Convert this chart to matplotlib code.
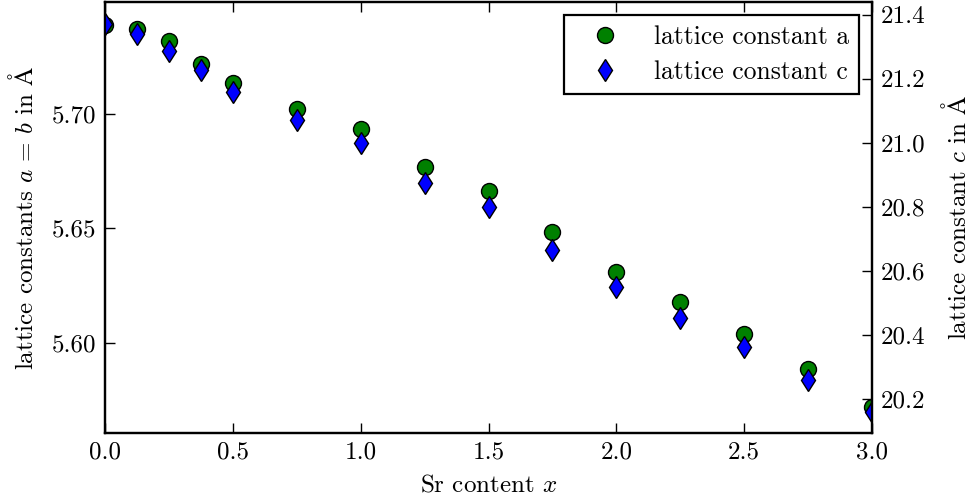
import matplotlib
matplotlib.use("Agg")
import matplotlib.pyplot as plt
from matplotlib.ticker import MultipleLocator, FormatStrFormatter

plt.rcParams['font.family'] = ['cmr10', 'DejaVu Serif']
plt.rcParams['mathtext.fontset'] = 'cm'
plt.rcParams['axes.formatter.use_mathtext'] = True
plt.rcParams['font.size'] = 18

# Sr content and lattice constants
sr_content = [0.0, 0.125, 0.25, 0.375, 0.5, 0.75, 1.0, 1.25, 1.5, 1.75, 2.0, 2.25, 2.5, 2.75, 3.0]
lattice_a = [5.7389, 5.7370, 5.7320, 5.7218, 5.7137, 5.7023, 5.6933, 5.6770,
             5.6662, 5.6485, 5.6309, 5.6178, 5.6039, 5.5886, 5.5720]
lattice_c = [21.372, 21.341, 21.288, 21.227, 21.160, 21.073, 21.001, 20.874,
             20.801, 20.667, 20.551, 20.455, 20.362, 20.259, 20.160]

ANG = r'$\mathrm{\AA}$'

fig = plt.figure(figsize=(9.74, 5.0), dpi=100)
ax = fig.add_axes([0.1078, 0.134, 0.7875, 0.862])
ax2 = ax.twinx()

h1, = ax.plot(sr_content, lattice_a, 'o', color='#008000', mec='black', mew=1.0,
              ms=11.5, label='lattice constant a')
h2, = ax2.plot(sr_content, lattice_c, 'd', color='#0000ff', mec='black', mew=1.0,
               ms=11.5, label='lattice constant c')

ax.set_xlim(0, 3.0)
ax.set_ylim(5.5605, 5.749)
ax2.set_ylim(20.095, 21.44)

ax.xaxis.set_major_locator(MultipleLocator(0.5))
ax.xaxis.set_major_formatter(FormatStrFormatter('%.1f'))
ax.yaxis.set_major_locator(MultipleLocator(0.05))
ax.yaxis.set_major_formatter(FormatStrFormatter('%.2f'))
ax2.yaxis.set_major_locator(MultipleLocator(0.2))
ax2.yaxis.set_major_formatter(FormatStrFormatter('%.1f'))

ax.tick_params(axis='x', direction='in', top=True, length=7, width=1, pad=6)
ax.tick_params(axis='y', direction='in', right=False, length=7, width=1, pad=6)
ax2.tick_params(axis='y', direction='in', length=7, width=1, pad=6)
for a_ in (ax, ax2):
    for s in a_.spines.values():
        s.set_linewidth(1.6)

ax.set_xlabel(r'Sr content $x$', labelpad=8)
ax.set_ylabel(r'lattice constants $a\,=\,b$ in ' + ANG, labelpad=10)
ax2.set_ylabel('lattice constant $c$ in ' + ANG, labelpad=12)

leg = ax2.legend([h1, h2], ['lattice constant a', 'lattice constant c'],
                 loc='upper right', numpoints=1, fancybox=False, framealpha=1,
                 edgecolor='black', fontsize=18.5, handlelength=2.4,
                 handletextpad=0.7, borderpad=0.4, labelspacing=0.45,
                 borderaxespad=0.5)
leg.get_frame().set_linewidth(1.6)

fig.savefig('out.png', dpi=100, facecolor='white')
